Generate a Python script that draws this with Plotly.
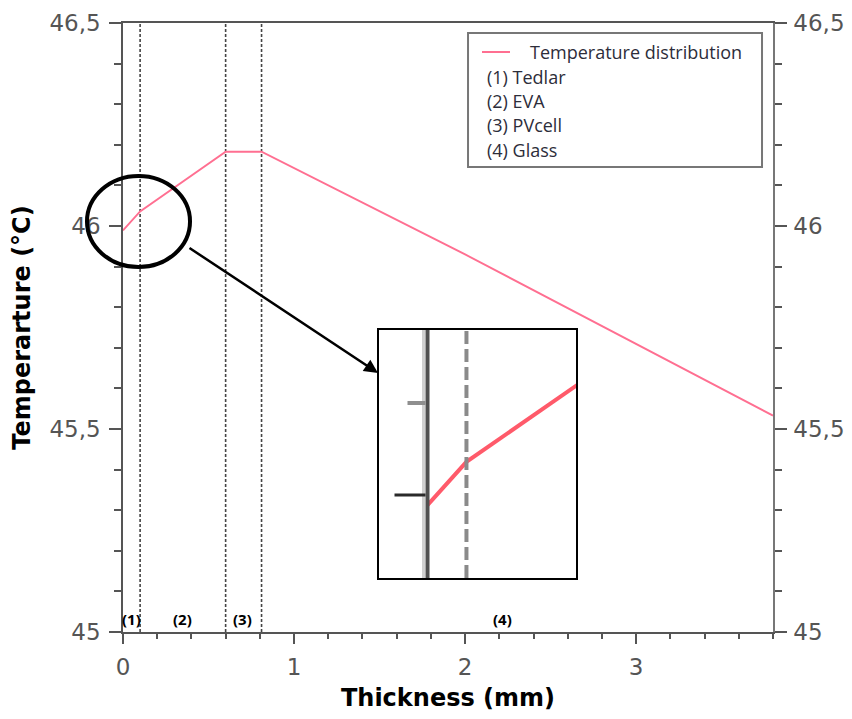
import plotly.graph_objects as go

# ---- data ----
thickness_mm = [0.0, 0.1, 0.6, 0.81, 2.0, 3.0, 3.8]
temperature_c = [45.989, 46.036, 46.183, 46.183, 45.930, 45.709, 45.533]
layer_boundaries = [0.1, 0.6, 0.81]
layer_labels = ["(1)", "(2)", "(3)", "(4)"]
layer_label_x = [0.05, 0.35, 0.70, 2.22]
legend_series = "Temperature distribution"
legend_notes = ["(1) Tedlar", "(2) EVA", "(3) PVcell", "(4) Glass"]
y_ticks = [45, 45.5, 46, 46.5]
x_ticks = [0, 1, 2, 3]

LINE = "#ff6f91"
INSET_LINE = "#ff5a6a"
FONT = "Open Sans"
AXFONT = "DejaVu Sans"
GRAY = "#555555"

fig = go.Figure()

# main curve
fig.add_trace(go.Scatter(x=thickness_mm, y=temperature_c, mode="lines",
                         line=dict(color=LINE, width=1.9), showlegend=False,
                         hoverinfo="skip"))
# right axis carrier
fig.add_trace(go.Scatter(x=thickness_mm, y=temperature_c, mode="lines",
                         line=dict(color="rgba(0,0,0,0)", width=0), yaxis="y3",
                         showlegend=False, hoverinfo="skip"))
# inset curve
fig.add_trace(go.Scatter(x=thickness_mm, y=temperature_c, mode="lines",
                         line=dict(color=INSET_LINE, width=4), xaxis="x2", yaxis="y2",
                         showlegend=False, hoverinfo="skip"))

shapes = []
for b in layer_boundaries:
    shapes.append(dict(type="line", xref="x", yref="y domain", x0=b, x1=b, y0=0, y1=1,
                       line=dict(color="#444", width=1.6, dash="3px,2px"), layer="below"))

# inset decorations
x2_range = [-0.1256, 0.382]
for b in layer_boundaries:
    if x2_range[0] < b < x2_range[1]:
        shapes.append(dict(type="line", xref="x2", yref="y2 domain", x0=b, x1=b, y0=0, y1=1,
                           line=dict(color="#8a8a8a", width=4, dash="13px,5px")))
shapes.append(dict(type="line", xref="x2", yref="y2 domain", xsizemode="pixel", xanchor=0,
                   x0=-4, x1=-4, y0=0, y1=1, line=dict(color="#d0d0d0", width=3)))
shapes.append(dict(type="line", xref="x2", yref="y2 domain", xsizemode="pixel", xanchor=0,
                   x0=0, x1=0, y0=0, y1=1, line=dict(color="#505050", width=4)))
shapes.append(dict(type="line", xref="x2", yref="y2", xsizemode="pixel", xanchor=0,
                   x0=-33, x1=-2, y0=46.0, y1=46.0, line=dict(color="#2a2a2a", width=3)))
shapes.append(dict(type="line", xref="x2", yref="y2", xsizemode="pixel", xanchor=0,
                   x0=-20, x1=-2, y0=46.1, y1=46.1, line=dict(color="#8f8f8f", width=4)))

# zoom circle
shapes.append(dict(type="circle", xref="paper", yref="paper", x0=-0.0554, x1=0.1031,
                   y0=0.5993, y1=0.7488, line=dict(color="black", width=4)))

# legend box
shapes.append(dict(type="rect", xref="paper", yref="paper", x0=0.5308, x1=0.9831,
                   y0=0.7635, y1=0.9836, line=dict(color="#777", width=2),
                   fillcolor="white"))
shapes.append(dict(type="line", xref="paper", yref="paper", x0=0.5523, x1=0.5954,
                   y0=0.9524, y1=0.9524, line=dict(color=LINE, width=2)))

annotations = []
annotations.append(dict(xref="paper", yref="paper", x=0.6231, y=0.9524, xanchor="left",
                        yanchor="middle", text=legend_series, showarrow=False,
                        font=dict(family=FONT, size=18, color="#2d2d3a")))
note_y = [0.9113, 0.8719, 0.8325, 0.7915]
for t, yy in zip(legend_notes, note_y):
    annotations.append(dict(xref="paper", yref="paper", x=0.5569, y=yy, xanchor="left",
                            yanchor="middle", text=t, showarrow=False,
                            font=dict(family=FONT, size=18, color="#2d2d3a")))
for t, xx in zip(layer_labels, layer_label_x):
    annotations.append(dict(xref="x", yref="y", x=xx, y=45.032, text="<b>%s</b>" % t,
                            showarrow=False, font=dict(family=FONT, size=15, color="black")))
# arrow
annotations.append(dict(xref="paper", yref="paper", x=0.3923, y=0.4253, ax=-190, ay=-126,
                        text="", showarrow=True, arrowhead=2, arrowsize=1.1,
                        arrowwidth=2.5, arrowcolor="black"))

tickfont = dict(family=AXFONT, size=23, color=GRAY)
titlefont = dict(family=AXFONT, size=24, color="black")

fig.update_layout(
    width=852, height=719,
    margin=dict(l=115, r=87, t=15, b=95),
    paper_bgcolor="white", plot_bgcolor="white",
    separators=", ",
    showlegend=False,
    xaxis=dict(range=[0, 3.8], tickvals=x_ticks, ticks="outside", ticklen=10, tickwidth=1.5,
               tickcolor=GRAY, showline=True, linecolor=GRAY, linewidth=1.5, mirror=True,
               minor=dict(dtick=0.2, ticks="outside", ticklen=5, tickcolor=GRAY, showgrid=False),
               showgrid=False, zeroline=False, tickfont=tickfont, automargin=False,
               ticklabelstandoff=4,
               title=dict(text="<b>Thickness (mm)</b>", standoff=10, font=titlefont)),
    yaxis=dict(range=[45, 46.5], tickvals=y_ticks, ticks="outside", ticklen=12, tickwidth=1.5,
               tickcolor=GRAY, showline=True, linecolor=GRAY, linewidth=1.5,
               minor=dict(dtick=0.1, ticks="outside", ticklen=7, tickcolor=GRAY, showgrid=False),
               showgrid=False, zeroline=False, tickfont=tickfont, automargin=False,
               ticklabelstandoff=4,
               title=dict(text="<b>Temperarture (°C)</b>", standoff=12, font=titlefont)),
    yaxis3=dict(range=[45, 46.5], overlaying="y", side="right", tickvals=y_ticks,
                ticks="outside", ticklen=12, tickwidth=1.5, tickcolor=GRAY, showline=True,
                linecolor="#777", linewidth=1.5, automargin=False, ticklabelstandoff=2,
                minor=dict(dtick=0.1, ticks="outside", ticklen=7, tickcolor=GRAY, showgrid=False),
                showgrid=False, zeroline=False, tickfont=tickfont),
    xaxis2=dict(domain=[0.3932, 0.6974], anchor="y2", range=x2_range, showticklabels=False,
                ticks="", showgrid=False, zeroline=False, showline=True, mirror=True,
                linecolor="black", linewidth=2, automargin=False),
    yaxis2=dict(domain=[0.0887, 0.4959], anchor="x2", range=[45.9098, 46.1793],
                showticklabels=False, ticks="", showgrid=False, zeroline=False,
                showline=True, mirror=True, linecolor="black", linewidth=2, automargin=False),
    shapes=shapes,
    annotations=annotations,
)

fig.write_html("out.html")
